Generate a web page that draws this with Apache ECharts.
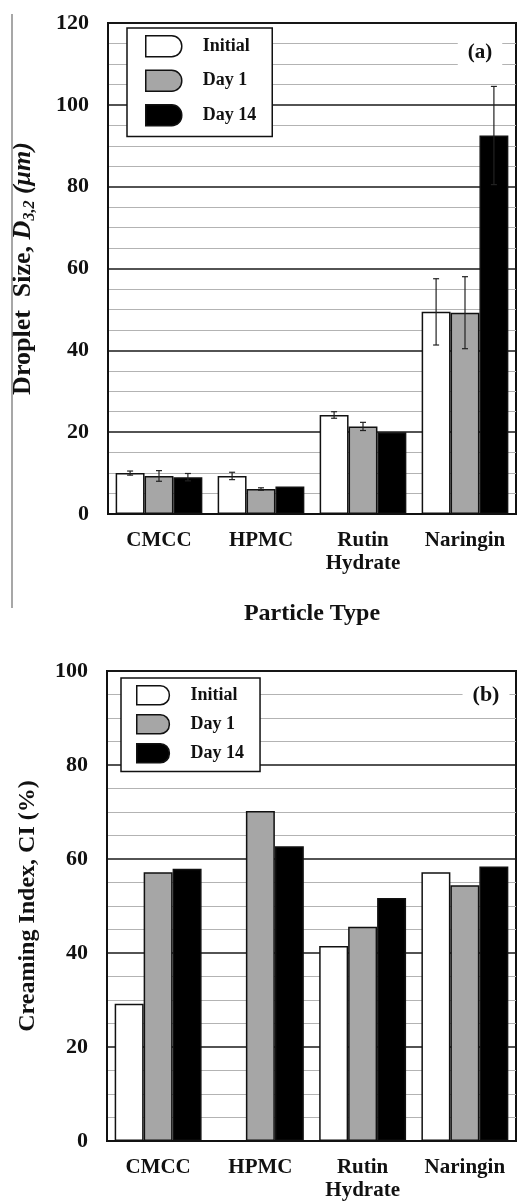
<!DOCTYPE html>
<html>
<head>
<meta charset="utf-8">
<script src="https://cdn.jsdelivr.net/npm/echarts@6/dist/echarts.min.js"></script>
<style>
  html, body { margin: 0; padding: 0; background: #fff; }
  #chart { width: 517px; height: 1202px; }
</style>
</head>
<body>
<div id="chart"></div>
<script>
// Particle types on the category axis
const categories = ['CMCC', 'HPMC', 'Rutin\nHydrate', 'Naringin'];
const seriesNames = ['Initial', 'Day 1', 'Day 14'];

// (a) Droplet size D3,2 (µm) with standard deviations
const sizeInitial = [10.0, 9.3, 24.2, 49.4];
const sizeDay1 = [9.3, 6.1, 21.4, 49.2];
const sizeDay14 = [9.0, 6.7, 20.0, 92.5];
const sizeErrInitial = [0.5, 0.9, 0.8, 8.1];
const sizeErrDay1 = [1.3, 0.3, 1.0, 8.8];
const sizeErrDay14 = [0.9, 0, 0, 12.0];

// (b) Creaming index CI (%)
const ciInitial = [29.2, 0, 41.5, 57.2];
const ciDay1 = [57.2, 70.2, 45.6, 54.4];
const ciDay14 = [57.9, 62.7, 51.7, 58.4];

// Axis tick values
const sizeTicks = [0, 20, 40, 60, 80, 100, 120];
const ciTicks = [0, 20, 40, 60, 80, 100];

const FONT = "'Liberation Serif', 'Times New Roman', serif";
const fills = ['#ffffff', '#a6a6a6', '#000000'];
const GROUP_FRACTION = 0.85;
const ICON = 'path://M0,0H26A10,10,0,0,1,36,10V11A10,10,0,0,1,26,21H0Z';

const chart = echarts.init(document.getElementById('chart'), null, { renderer: 'canvas' });

function barSeries(name, data, idx, axisIdx) {
  return {
    name: name,
    type: 'bar',
    xAxisIndex: axisIdx,
    yAxisIndex: axisIdx,
    data: data,
    barGap: '0%',
    barCategoryGap: '15%',
    itemStyle: { color: fills[idx], borderColor: '#111', borderWidth: 1.5 },
    emphasis: { disabled: true },
    z: 3
  };
}

// error bar records: [category index, low, high, series index]
const errRows = [];
[[sizeInitial, sizeErrInitial], [sizeDay1, sizeErrDay1], [sizeDay14, sizeErrDay14]].forEach(function (pair, k) {
  pair[0].forEach(function (v, i) {
    const e = pair[1][i];
    if (e > 0) errRows.push([i, v - e, v + e, k]);
  });
});

function renderError(params, api) {
  const ci = api.value(0);
  const lo = api.value(1);
  const hi = api.value(2);
  const k = api.value(3);
  const band = api.size([1, 0])[0];
  const barW = band * GROUP_FRACTION / 3;
  const x = api.coord([ci, 0])[0] + (k - 1) * barW;
  const yLo = api.coord([ci, lo])[1];
  const yHi = api.coord([ci, hi])[1];
  const cap = 3;
  const st = { stroke: '#222', lineWidth: 1.2 };
  return {
    type: 'group',
    children: [
      { type: 'line', shape: { x1: x, y1: yLo, x2: x, y2: yHi }, style: st },
      { type: 'line', shape: { x1: x - cap, y1: yHi, x2: x + cap, y2: yHi }, style: st },
      { type: 'line', shape: { x1: x - cap, y1: yLo, x2: x + cap, y2: yLo }, style: st }
    ]
  };
}

function valueAxis(idx, max, name, nameGap, fontSize, rich) {
  return {
    type: 'value',
    gridIndex: idx,
    min: 0,
    max: max,
    interval: 20,
    name: name,
    nameLocation: 'middle',
    nameRotate: 90,
    nameGap: nameGap,
    nameTextStyle: {
      fontFamily: FONT, fontWeight: 'bold', fontSize: fontSize, color: '#111', lineHeight: fontSize + 4,
      rich: rich
    },
    axisLine: { show: true, lineStyle: { color: '#111', width: 2 } },
    axisTick: { show: false },
    minorTick: { show: false, splitNumber: 4 },
    axisLabel: {
      fontFamily: FONT, fontWeight: 'bold', fontSize: 22, color: '#111', margin: 19
    },
    splitLine: { show: true, lineStyle: { color: '#1a1a1a', width: 1.5 } },
    minorSplitLine: { show: true, lineStyle: { color: '#b3b3b3', width: 1.2 } }
  };
}

function categoryAxis(idx, name) {
  return {
    type: 'category',
    gridIndex: idx,
    data: categories,
    name: name,
    nameLocation: 'middle',
    nameGap: 88,
    nameTextStyle: { fontFamily: FONT, fontWeight: 'bold', fontSize: 24, color: '#111' },
    axisLine: { show: true, lineStyle: { color: '#111', width: 2 } },
    axisTick: { show: false },
    axisLabel: {
      fontFamily: FONT, fontWeight: 'bold', fontSize: 21, color: '#111',
      lineHeight: 23, margin: 15, interval: 0
    },
    splitLine: { show: false }
  };
}

function legend(left, top, gap, iconW, iconH, pad, textPad) {
  return {
    orient: 'vertical',
    left: left,
    top: top,
    data: seriesNames,
    icon: ICON,
    itemWidth: iconW,
    itemHeight: iconH,
    itemGap: gap,
    padding: pad,
    backgroundColor: '#fff',
    borderColor: '#111',
    borderWidth: 1.5,
    borderRadius: 0,
    selectedMode: false,
    itemStyle: { borderColor: '#111', borderWidth: 1.5 },
    textStyle: {
      fontFamily: FONT, fontWeight: 'bold', fontSize: 18, color: '#111',
      padding: [0, 0, 0, textPad]
    }
  };
}

const subRich = {
  i: { fontFamily: FONT, fontWeight: 'bold', fontStyle: 'italic', fontSize: 26, lineHeight: 30, color: '#111' },
  s: { fontFamily: FONT, fontWeight: 'bold', fontStyle: 'italic', fontSize: 16, lineHeight: 16, verticalAlign: 'bottom', color: '#111' }
};

const option = {
  backgroundColor: '#fff',
  animation: false,
  grid: [
    { left: 107, top: 23, right: 1, height: 491, show: true, borderColor: '#111', borderWidth: 2, backgroundColor: 'transparent' },
    { left: 107, top: 671, right: 1, height: 475.5, show: true, borderColor: '#111', borderWidth: 2, backgroundColor: 'transparent' }
  ],
  legend: [
    legend(127, 28, 12, 36, 21, [7, 16, 10, 18], 16),
    legend(121, 678, 8.5, 35, 19, [7, 16, 8, 15], 15)
  ],
  xAxis: [
    categoryAxis(0, 'Particle Type'),
    categoryAxis(1, '')
  ],
  yAxis: [
    valueAxis(0, 120, 'Droplet  Size, {i|D}{s|3,2} {i|(μm)}', 70, 26, subRich),
    valueAxis(1, 100, 'Creaming Index, CI (%)', 65, 24, null)
  ],
  series: [
    barSeries(seriesNames[0], sizeInitial, 0, 0),
    barSeries(seriesNames[1], sizeDay1, 1, 0),
    barSeries(seriesNames[2], sizeDay14, 2, 0),
    {
      type: 'custom',
      xAxisIndex: 0,
      yAxisIndex: 0,
      data: errRows,
      encode: { x: 0, y: [1, 2] },
      renderItem: renderError,
      silent: true,
      z: 5
    },
    barSeries(seriesNames[0], ciInitial, 0, 1),
    barSeries(seriesNames[1], ciDay1, 1, 1),
    barSeries(seriesNames[2], ciDay14, 2, 1)
  ],
  graphic: [
    {
      type: 'line',
      shape: { x1: 12, y1: 14, x2: 12, y2: 608 },
      style: { stroke: '#8a8a8a', lineWidth: 1.5 },
      z: 10
    },
    {
      type: 'text',
      x: 480, y: 53,
      style: {
        text: '(a)', fontFamily: FONT, fontWeight: 'bold', fontSize: 21, fill: '#111',
        align: 'center', verticalAlign: 'middle',
        backgroundColor: '#fff', padding: [7, 10]
      },
      z: 10
    },
    {
      type: 'text',
      x: 486, y: 695,
      style: {
        text: '(b)', fontFamily: FONT, fontWeight: 'bold', fontSize: 22, fill: '#111',
        align: 'center', verticalAlign: 'middle',
        backgroundColor: '#fff', padding: [5, 10]
      },
      z: 10
    }
  ]
};

chart.setOption(option);
</script>
</body>
</html>
